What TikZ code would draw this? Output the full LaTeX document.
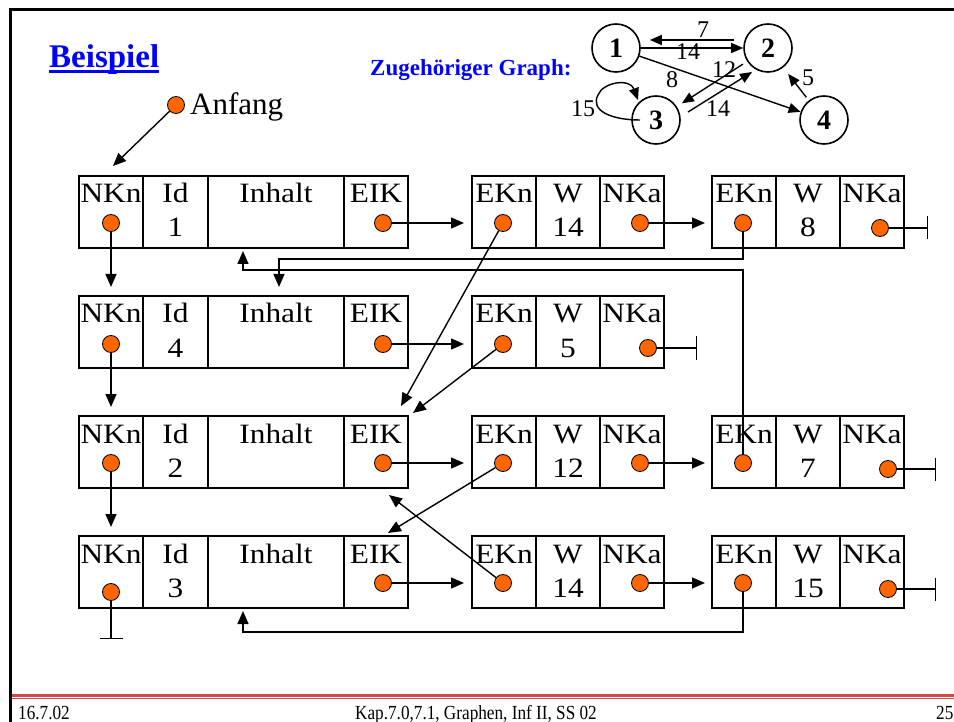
\documentclass[tikz,border=0pt]{standalone}
\usepackage{fontspec}
\setmainfont{Liberation Serif}
\newfontfamily\boxfont[FakeStretch=1.12]{Liberation Serif}
\newfontfamily\footfont[FakeStretch=0.86]{Liberation Serif}
\usetikzlibrary{arrows.meta,calc}
\definecolor{dotorange}{RGB}{255,102,0}
\definecolor{slidered}{RGB}{214,72,72}
\definecolor{titleblue}{RGB}{0,0,255}
\tikzset{
 cellbox/.style={draw, line width=1.6pt, rectangle, minimum height=72pt, inner sep=0pt, outer sep=0pt},
 hdr/.style={anchor=base, inner sep=0pt, font=\boxfont\fontsize{28}{28}\selectfont},
 ptrdot/.style={circle, draw, line width=0.8pt, fill=dotorange, minimum size=17pt, inner sep=0pt},
 ptr/.style={line width=1.4pt, -{Triangle[length=13pt,width=11pt]}},
 nilptr/.style={line width=1.4pt, -{Bar[width=23pt]}},
 gnode/.style={circle, draw, line width=1.6pt, minimum size=48pt, inner sep=0pt, font=\bfseries\fontsize{28}{28}\selectfont},
 garrow/.style={line width=1.4pt, -{Triangle[length=12pt,width=10pt]}},
 glabel/.style={inner sep=0pt, font=\fontsize{24}{24}\selectfont},
}
\newcommand{\mkcell}[6]{%
 \node[cellbox, minimum width=#4pt] (#1) at ({#2+#4/2},{#3+36}) {};
 \node[hdr] (#1h) at ({#2+#4/2},{#3+27}) {#5};
 \if\relax\detokenize{#6}\relax\else
 \node[hdr] (#1v) at ({#2+#4/2},{#3+61}) {#6};\fi
}
\begin{document}
\begin{tikzpicture}[x=1pt,y=-1pt]
\useasboundingbox (0,0) rectangle (954,722);
\clip (0,0) rectangle (954,722);
% frame
\draw[line width=3pt] (10,722) -- (10,10) -- (954,10);
\draw[slidered, line width=3pt] (11.5,695) -- (954,695);
\draw[slidered, line width=1.5pt] (11.5,698.5) -- (954,698.5);
% footer
\node[anchor=base west, inner sep=0pt, font=\footfont\fontsize{20}{20}\selectfont] (f1) at (18,719) {16.7.02};
\node[anchor=base, inner sep=0pt, font=\footfont\fontsize{20}{20}\selectfont] (f2) at (476,719) {Kap.7.0,7.1, Graphen, Inf II, SS 02};
\node[anchor=base west, inner sep=0pt, font=\footfont\fontsize{20}{20}\selectfont] (f3) at (936,719) {25};
% titles
\node[anchor=base west, inner sep=0pt, text=titleblue, font=\bfseries\fontsize{33}{33}\selectfont] (beis) at (49,68) {Beispiel};
\draw[titleblue, line width=3pt] ([yshift=-4pt]beis.base west) -- ([yshift=-4pt]beis.base east);
\node[anchor=base west, inner sep=0pt, text=titleblue, font=\bfseries\fontsize{23}{23}\selectfont] (zg) at (370,76) {Zugeh\"origer Graph:};
% small graph
\node[gnode] (g1) at (616,48) {1};
\node[gnode] (g2) at (768,48) {2};
\node[gnode] (g3) at (656,120) {3};
\node[gnode] (g4) at (824,120) {4};
\draw[garrow] ([shift={(-9,-8)}]g2.west) -- ([shift={(9,-8)}]g1.east);
\draw[garrow] (g1.east) -- (g2.west);
\draw[garrow] (g1) -- (g4);
\draw[garrow, shorten <=5pt, shorten >=6pt] (g2) -- (g3);
\draw[garrow] ([shift={(32,-8)}]g3.center) -- ([shift={(-16,24)}]g2.center);
\draw[garrow, shorten <=4pt, shorten >=8pt] (g4) -- (g2);
\draw[garrow] ([shift={(-16,0)}]g3.center) .. controls (610,120) and (590,110) .. (598,95) .. controls (603,82) and (630,78) .. ([shift={(-18,-20)}]g3.center);
\node[glabel] (l7) at (703,30) {7};
\node[glabel] (l14a) at (688,52) {14};
\node[glabel] (l8) at (672,80) {8};
\node[glabel] (l12) at (724,70) {12};
\node[glabel] (l14b) at (718,109) {14};
\node[glabel] (l5) at (808,78) {5};
\node[glabel] (l15) at (583,109) {15};
% Anfang
\node[ptrdot] (anf) at (176,105) {};
\node[anchor=base west, inner sep=0pt, font=\fontsize{31}{31}\selectfont] (anft) at (190,115) {Anfang};
\coordinate (anfTip) at (113,166);
\draw[ptr] (anf) -- (anfTip);
% row 1
\mkcell{N1}{79}{176}{64}{NKn}{}
\mkcell{I1}{143}{176}{65}{Id}{1}
\mkcell{C1}{208}{176}{136}{Inhalt}{}
\mkcell{E1}{344}{176}{64}{EIK}{}
\mkcell{A1k}{472}{176}{64}{EKn}{}
\mkcell{A1w}{536}{176}{64}{W}{14}
\mkcell{A1n}{600}{176}{64}{NKa}{}
\mkcell{B1k}{712}{176}{64}{EKn}{}
\mkcell{B1w}{776}{176}{64}{W}{8}
\mkcell{B1n}{840}{176}{64}{NKa}{}
% row 2
\mkcell{N2}{79}{296}{64}{NKn}{}
\mkcell{I2}{143}{296}{65}{Id}{4}
\mkcell{C2}{208}{296}{136}{Inhalt}{}
\mkcell{E2}{344}{296}{64}{EIK}{}
\mkcell{A2k}{472}{296}{64}{EKn}{}
\mkcell{A2w}{536}{296}{64}{W}{5}
\mkcell{A2n}{600}{296}{64}{NKa}{}
% row 3
\mkcell{N3}{79}{416}{64}{NKn}{}
\mkcell{I3}{143}{416}{65}{Id}{2}
\mkcell{C3}{208}{416}{136}{Inhalt}{}
\mkcell{E3}{344}{416}{64}{EIK}{}
\mkcell{A3k}{472}{416}{64}{EKn}{}
\mkcell{A3w}{536}{416}{64}{W}{12}
\mkcell{A3n}{600}{416}{64}{NKa}{}
\mkcell{B3k}{712}{416}{64}{EKn}{}
\mkcell{B3w}{776}{416}{64}{W}{7}
\mkcell{B3n}{840}{416}{64}{NKa}{}
% row 4
\mkcell{N4}{79}{536}{64}{NKn}{}
\mkcell{I4}{143}{536}{65}{Id}{3}
\mkcell{C4}{208}{536}{136}{Inhalt}{}
\mkcell{E4}{344}{536}{64}{EIK}{}
\mkcell{A4k}{472}{536}{64}{EKn}{}
\mkcell{A4w}{536}{536}{64}{W}{14}
\mkcell{A4n}{600}{536}{64}{NKa}{}
\mkcell{B4k}{712}{536}{64}{EKn}{}
\mkcell{B4w}{776}{536}{64}{W}{15}
\mkcell{B4n}{840}{536}{64}{NKa}{}
% dots
\node[ptrdot] (dN1) at (111,223) {};
\node[ptrdot] (dE1) at (383,223) {};
\node[ptrdot] (dA1k) at (503,223) {};
\node[ptrdot] (dA1n) at (640,223) {};
\node[ptrdot] (dB1k) at (743,223) {};
\node[ptrdot] (dB1n) at (880,228) {};
\node[ptrdot] (dN2) at (111,344) {};
\node[ptrdot] (dE2) at (383,344) {};
\node[ptrdot] (dA2k) at (503,344) {};
\node[ptrdot] (dA2n) at (648,348) {};
\node[ptrdot] (dN3) at (111,463) {};
\node[ptrdot] (dE3) at (383,463) {};
\node[ptrdot] (dA3k) at (503,463) {};
\node[ptrdot] (dA3n) at (640,463) {};
\node[ptrdot] (dB3k) at (743,463) {};
\node[ptrdot] (dB3n) at (888,469) {};
\node[ptrdot] (dN4) at (111,592) {};
\node[ptrdot] (dE4) at (383,583) {};
\node[ptrdot] (dA4k) at (503,583) {};
\node[ptrdot] (dA4n) at (640,583) {};
\node[ptrdot] (dB4k) at (743,583) {};
\node[ptrdot] (dB4n) at (888,589) {};
% vertical node links
\draw[ptr, shorten >=9pt] (dN1) -- (N2.north);
\draw[ptr, shorten >=9pt] (dN2) -- (N3.north);
\draw[ptr, shorten >=9pt] (dN3) -- (N4.north);
% EIK -> first edge
\draw[ptr, shorten >=8pt] (dE1) -- (dE1 -| A1k.west);
\draw[ptr, shorten >=8pt] (dE2) -- (dE2 -| A2k.west);
\draw[ptr, shorten >=8pt] (dE3) -- (dE3 -| A3k.west);
\draw[ptr, shorten >=8pt] (dE4) -- (dE4 -| A4k.west);
% NKa -> next edge
\draw[ptr, shorten >=7pt] (dA1n) -- (dA1n -| B1k.west);
\draw[ptr, shorten >=7pt] (dA3n) -- (dA3n -| B3k.west);
\draw[ptr, shorten >=7pt] (dA4n) -- (dA4n -| B4k.west);
% nil pointers
\coordinate (z1) at (928,228);
\coordinate (z2) at (697,348);
\coordinate (z3) at (936,469);
\coordinate (z4) at (936,589);
\coordinate (z5) at (111,639);
\draw[nilptr] (dB1n) -- (z1);
\draw[nilptr] (dA2n) -- (z2);
\draw[nilptr] (dB3n) -- (z3);
\draw[nilptr] (dB4n) -- (z4);
\draw[nilptr] (dN4) -- (z5);
% edge target pointers
\coordinate (t12) at (401,406);
\coordinate (t42) at (413,413);
\coordinate (t23) at (388,533);
\coordinate (t32) at (389,495);
\draw[ptr] (dA1k) -- (t12);
\draw[ptr] (dA2k) -- (t42);
\draw[ptr] (dA3k) -- (t23);
\draw[ptr] (dA4k) -- (t32);
\coordinate (t14) at (279,287);
\coordinate (t21) at (243,251);
\coordinate (t33) at (243,611);
\draw[ptr] (dB1k) |- (279,259) -- (t14);
\draw[ptr] (dB3k) |- (243,270) -- (t21);
\draw[ptr] (dB4k) |- (243,632) -- (t33);
\end{tikzpicture}
\end{document}
